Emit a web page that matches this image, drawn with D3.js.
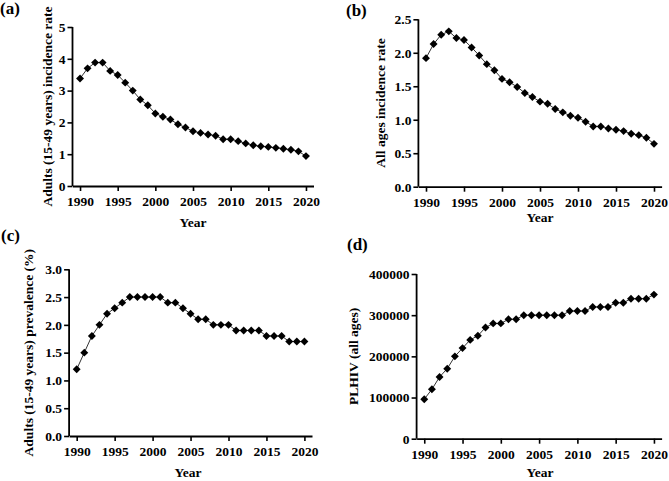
<!DOCTYPE html>
<html>
<head>
<meta charset="utf-8">
<script src="https://cdn.jsdelivr.net/npm/d3@7"></script>
<style>
  body { margin: 0; background: #fff; }
  svg { display: block; }
  text { font-family: "Liberation Serif", "Times New Roman", serif; font-weight: bold; fill: #000; }
</style>
</head>
<body>
<svg id="chart" width="669" height="481"></svg>
<script>
const years = d3.range(1990, 2021);
const xTicks = [1990, 1995, 2000, 2005, 2010, 2015, 2020];

const adultIncidence = [3.38, 3.70, 3.88, 3.88, 3.62, 3.49, 3.25, 3.00, 2.72, 2.54, 2.28, 2.18, 2.09, 1.94, 1.84, 1.72, 1.67, 1.62, 1.58, 1.47, 1.47, 1.41, 1.34, 1.28, 1.25, 1.23, 1.20, 1.17, 1.14, 1.09, 0.94];
const allAgesIncidence = [1.92, 2.13, 2.27, 2.32, 2.22, 2.19, 2.08, 1.96, 1.83, 1.74, 1.61, 1.56, 1.49, 1.40, 1.34, 1.27, 1.24, 1.16, 1.11, 1.06, 1.03, 0.97, 0.90, 0.90, 0.87, 0.85, 0.83, 0.79, 0.77, 0.73, 0.64];
const adultPrevalence = [1.2, 1.5, 1.8, 2.0, 2.2, 2.3, 2.4, 2.5, 2.5, 2.5, 2.5, 2.5, 2.4, 2.4, 2.3, 2.2, 2.1, 2.1, 2.0, 2.0, 2.0, 1.9, 1.9, 1.9, 1.9, 1.8, 1.8, 1.8, 1.7, 1.7, 1.7];
const plhiv = [96000, 120000, 150000, 170000, 200000, 220000, 240000, 250000, 270000, 280000, 280000, 290000, 290000, 300000, 300000, 300000, 300000, 300000, 300000, 310000, 310000, 310000, 320000, 320000, 320000, 330000, 330000, 340000, 340000, 340000, 350000];

const ticksA = [0, 1, 2, 3, 4, 5];
const ticksB = [0, 0.5, 1.0, 1.5, 2.0, 2.5];
const ticksC = [0, 0.5, 1.0, 1.5, 2.0, 2.5, 3.0];
const ticksD = [0, 100000, 200000, 300000, 400000];

const panels = [
  { tag: "(a)", tagPos: [0, 14], title: "Adults (15-49 years) incidence rate", titleX: 47,
    values: adultIncidence, yDomain: [0, 5], yTicks: ticksA, fmt: d3.format("d"),
    xr: [72.5, 313.5], yr: [186, 27], yearPos: [193, 227] },
  { tag: "(b)", tagPos: [346, 16], title: "All ages incidence rate", titleX: 380,
    values: allAgesIncidence, yDomain: [0, 2.5], yTicks: ticksB, fmt: d3.format(".1f"),
    xr: [418.4, 661.6], yr: [186.7, 19.3], yearPos: [540, 222] },
  { tag: "(c)", tagPos: [1, 241], title: "Adults (15-49 years) prevalence (%)", titleX: 28,
    values: adultPrevalence, yDomain: [0, 3], yTicks: ticksC, fmt: d3.format(".1f"),
    xr: [69.1, 312], yr: [436, 269.3], yearPos: [188, 477] },
  { tag: "(d)", tagPos: [347, 250], title: "PLHIV (all ages)", titleX: 353,
    values: plhiv, yDomain: [0, 400000], yTicks: ticksD, fmt: d3.format("d"),
    xr: [416.6, 661.6], yr: [438.7, 274], yearPos: [540, 477] }
];

const svg = d3.select("#chart");

panels.forEach(p => {
  const x = d3.scaleLinear().domain([1989, 2021]).range(p.xr);
  const y = d3.scaleLinear().domain(p.yDomain).range(p.yr);
  const g = svg.append("g");

  const xAxis = g.append("g")
    .attr("transform", `translate(0,${p.yr[0]})`)
    .call(d3.axisBottom(x).tickValues(xTicks).tickFormat(d3.format("d")).tickSize(5).tickSizeOuter(0));
  const yAxis = g.append("g")
    .attr("transform", `translate(${p.xr[0]},0)`)
    .call(d3.axisLeft(y).tickValues(p.yTicks).tickFormat(p.fmt).tickSize(5).tickSizeOuter(0));

  [xAxis, yAxis].forEach(a => {
    a.select(".domain").attr("stroke", "#000").attr("stroke-width", 1.8);
    a.selectAll(".tick line").attr("stroke", "#000").attr("stroke-width", 1.6);
    a.selectAll(".tick text").style("font-family", '"Liberation Serif", "Times New Roman", serif')
      .style("font-weight", "bold").style("font-size", "13.5px").attr("fill", "#000");
  });
  yAxis.select(".domain").attr("d", `M0,${y(p.yDomain[1])}V${p.yr[0]}`);
  xAxis.selectAll(".tick text").attr("y", 20).attr("dy", 0);
  yAxis.selectAll(".tick text").attr("x", -7);

  const pts = years.map((yr, i) => [yr, p.values[i]]);
  g.append("path")
    .datum(pts)
    .attr("fill", "none")
    .attr("stroke", "#333")
    .attr("stroke-width", 1)
    .attr("d", d3.line().x(d => x(d[0])).y(d => y(d[1])));

  g.selectAll(".pt").data(pts).enter().append("path")
    .attr("class", "pt")
    .attr("transform", d => `translate(${x(d[0])},${y(d[1])}) rotate(45)`)
    .attr("d", "M-2.8,-2.8H2.8V2.8H-2.8Z")
    .attr("fill", "#000");

  const cy = (p.yr[0] + p.yr[1]) / 2;
  g.append("text")
    .attr("transform", `translate(${p.titleX},${cy}) rotate(-90)`)
    .attr("text-anchor", "middle")
    .attr("dominant-baseline", "central")
    .style("font-size", "13.5px")
    .text(p.title);

  g.append("text")
    .attr("x", p.yearPos[0]).attr("y", p.yearPos[1])
    .attr("text-anchor", "middle")
    .style("font-size", "13.5px")
    .text("Year");

  g.append("text")
    .attr("x", p.tagPos[0]).attr("y", p.tagPos[1])
    .style("font-size", "17px")
    .text(p.tag);
});
</script>
</body>
</html>
